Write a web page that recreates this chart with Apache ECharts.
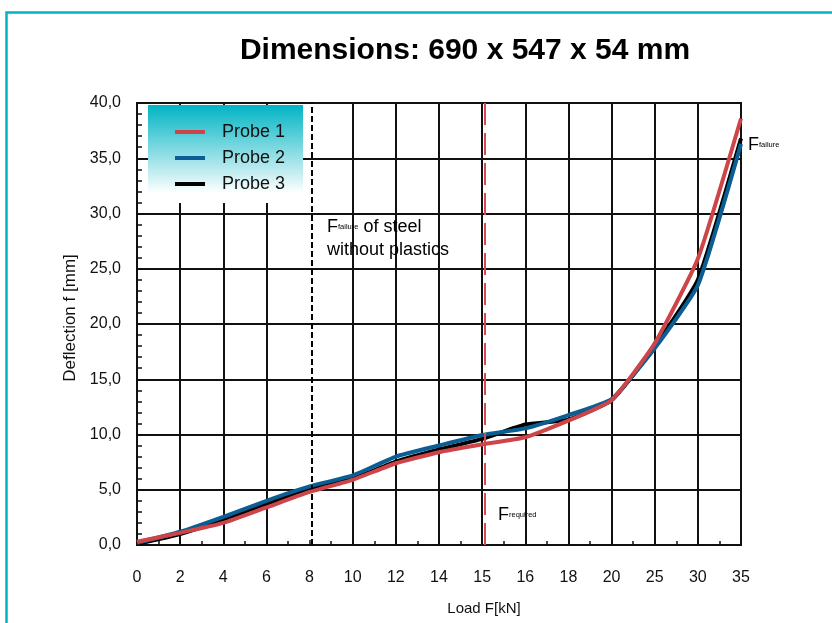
<!DOCTYPE html>
<html><head><meta charset="utf-8">
<script src="https://cdn.jsdelivr.net/npm/echarts@6/dist/echarts.min.js"></script>
<style>html,body{margin:0;padding:0;background:#fff}#c{width:832px;height:623px}</style>
</head><body><div id="c"></div>
<script>
const loads = ['0','2','4','6','8','10','12','14','15','16','18','20','25','30','35'];
const probe1 = [0.3,1.1,2.0,3.4,4.8,5.9,7.4,8.4,9.1,9.75,11.25,13.1,18.25,25.9,38.6];
const probe2 = [0.2,1.2,2.55,4.0,5.3,6.3,8.0,9.0,9.95,10.55,11.75,13.2,17.8,23.5,36.3];
const probe3 = [0.1,1.0,2.25,3.7,5.05,6.0,7.55,8.65,9.6,10.9,11.35,13.1,17.95,24.0,36.8];
const yTicks = [0,5,10,15,20,25,30,35,40];
const steelFailureLoad = 8.1;
const requiredLoad = 15.05;

const loadNums = loads.map(Number);
function loadToIndex(L){
  for (let i=0;i<loadNums.length-1;i++){
    if (L>=loadNums[i] && L<=loadNums[i+1]) return i + (L-loadNums[i])/(loadNums[i+1]-loadNums[i]);
  }
  return loadNums.length-1;
}
const pts = arr => arr.map((v,i)=>[i,v]);
const FONT = '"Liberation Sans", Arial, sans-serif';
const splitColors = loads.map((l,i)=> l==='8' ? 'rgba(0,0,0,0)' : '#111');
const rich = {
  a:{fontSize:18,fontFamily:FONT,color:'#111',lineHeight:23},
  b:{fontSize:7.5,fontFamily:FONT,color:'#111',lineHeight:23}
};

const chart = echarts.init(document.getElementById('c'));
chart.setOption({
  animation:false,
  textStyle:{fontFamily:FONT},
  grid:{left:137,right:91,top:103,bottom:78,show:true,borderColor:'#111',borderWidth:2,backgroundColor:'transparent'},
  title:{text:'Dimensions: 690 x 547 x 54 mm',left:460,textAlign:'center',top:31,
    textStyle:{fontFamily:FONT,fontSize:30,fontWeight:'bold',color:'#000'}},
  legend:{orient:'vertical',left:170,top:118,itemWidth:30,itemHeight:4,itemGap:8,icon:'rect',
    textStyle:{fontFamily:FONT,fontSize:18,color:'#111',padding:[0,0,0,12]},
    data:['Probe 1','Probe 2','Probe 3']},
  xAxis:{type:'value',min:0,max:loads.length-1,interval:1,
    name:'Load F[kN]',nameLocation:'middle',nameGap:56,
    nameTextStyle:{fontFamily:FONT,fontSize:15,color:'#111',padding:[0,0,0,90]},
    axisLine:{lineStyle:{color:'#111',width:2}},
    axisTick:{show:true,inside:true,length:5,lineStyle:{color:'#111',width:1.5}},
    minorTick:{show:true,splitNumber:2,length:4,lineStyle:{color:'#111',width:1.5}},
    axisLabel:{formatter:v=>loads[v]!==undefined?loads[v]:'',margin:25,fontSize:16,color:'#111',fontFamily:FONT},
    splitLine:{show:true,lineStyle:{color:splitColors,width:2}}},
  yAxis:{type:'value',min:yTicks[0],max:yTicks[yTicks.length-1],interval:5,
    name:'Deflection f [mm]',nameLocation:'middle',nameGap:58,nameRotate:90,
    nameTextStyle:{fontFamily:FONT,fontSize:17,color:'#111',padding:[0,0,0,12]},
    axisLine:{show:true,lineStyle:{color:'#111',width:2}},
    axisTick:{show:true,inside:true,length:5,lineStyle:{color:'#111',width:1.5}},
    minorTick:{show:true,splitNumber:5,length:5,lineStyle:{color:'#111',width:1.5}},
    axisLabel:{formatter:v=>v.toFixed(1).replace('.',','),margin:16,fontSize:16,color:'#111',fontFamily:FONT},
    splitLine:{show:true,lineStyle:{color:'#111',width:2}}},
  series:[
    {name:'Probe 3',type:'line',data:pts(probe3),symbol:'none',smooth:0.15,z:3,
      lineStyle:{color:'#000',width:4},itemStyle:{color:'#000'},
      markLine:{symbol:'none',silent:true,label:{show:false},
        lineStyle:{color:'#000',width:2,type:[6,3]},data:[{xAxis:loadToIndex(steelFailureLoad)}]}},
    {name:'Probe 2',type:'line',data:pts(probe2),symbol:'none',smooth:0.15,z:4,
      lineStyle:{color:'#0b5e94',width:4},itemStyle:{color:'#0b5e94'},
      markLine:{symbol:'none',silent:true,label:{show:false},
        lineStyle:{color:'#d9474f',width:2,type:[22,8]},data:[{xAxis:loadToIndex(requiredLoad)}]}},
    {name:'Probe 1',type:'line',data:pts(probe1),symbol:'none',smooth:0.15,z:5,
      lineStyle:{color:'#cd4449',width:4},itemStyle:{color:'#cd4449'}}
  ],
  graphic:[
    {type:'rect',left:4,top:10,z:-1,shape:{width:900,height:700},style:{fill:'none',stroke:'#00b4c4',lineWidth:2.5}},
    {type:'rect',left:148,top:105,z:3,shape:{width:155,height:98},
      style:{fill:new echarts.graphic.LinearGradient(0,0,0,1,[{offset:0,color:'#00b4c4'},{offset:0.9,color:'#ffffff'},{offset:1,color:'#ffffff'}])}},
    {type:'text',left:327,top:218,z:10,style:{rich:rich,text:'{a|F}{b|failure}{a| of steel}\n{a|without plastics}'}},
    {type:'text',left:498,top:506,z:10,style:{rich:rich,text:'{a|F}{b|required}'}},
    {type:'text',left:748,top:136,z:10,style:{rich:rich,text:'{a|F}{b|failure}'}}
  ]
});
</script></body></html>
